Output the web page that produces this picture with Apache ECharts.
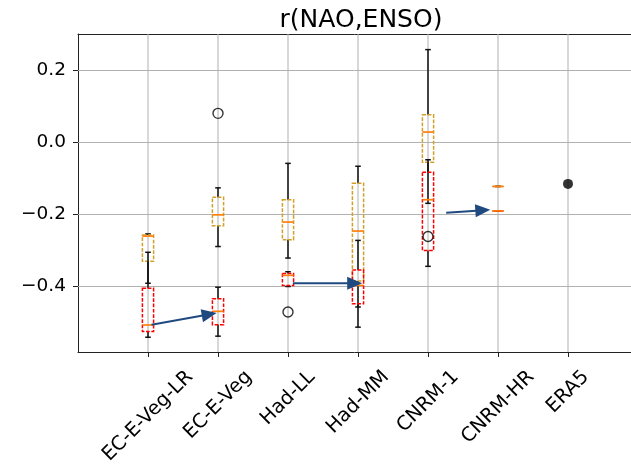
<!DOCTYPE html>
<html><head><meta charset="utf-8">
<script src="https://cdn.jsdelivr.net/npm/echarts@6/dist/echarts.min.js"></script>
<style>html,body{margin:0;padding:0;background:#fff}#c{width:631px;height:466px}</style>
</head><body><div id="c"></div>
<script>
// ---------- data ----------
const categories = ['EC-E-Veg-LR','EC-E-Veg','Had-LL','Had-MM','CNRM-1','CNRM-HR','ERA5'];
const yTicks = [-0.4, -0.2, 0.0, 0.2];
// [whisker low, Q1, median, Q3, whisker high]
const orangeBoxes = [
  [-0.391, -0.330, -0.260, -0.257, -0.254],
  [-0.289, -0.231, -0.201, -0.152, -0.126],
  [-0.321, -0.270, -0.221, -0.159, -0.058],
  [-0.457, -0.385, -0.246, -0.113, -0.066],
  [-0.169, -0.055,  0.029,  0.077,  0.258],
  [-0.122, -0.122, -0.122, -0.122, -0.122]
];
const redBoxes = [
  [-0.541, -0.525, -0.507, -0.405, -0.305],
  [-0.538, -0.506, -0.469, -0.434, -0.402],
  [-0.400, -0.397, -0.369, -0.364, -0.359],
  [-0.513, -0.448, -0.397, -0.354, -0.272],
  [-0.344, -0.300, -0.159, -0.083, -0.048],
  [-0.190, -0.190, -0.190, -0.190, -0.190]
];
const outlierCat = [1, 2, 4];
const outlierVal = [0.081, -0.471, -0.261];
const era5Cat = [6];
const era5Val = [-0.115];
const arrowFrom = [[0.05, -0.506], [2.07, -0.391], [4.26, -0.195]];
const arrowTo   = [[0.98, -0.474], [3.06, -0.391], [4.89, -0.187]];

// ---------- styles ----------
const FONT = 'DejaVu Sans';
const FS_X = 19.5;
const FS_Y = 18.5;
const LH = 1.16 * FS_X;
const LABEL_PAD = 14;
const BOX_W = 0.16;
const ORANGE_EDGE = '#d2a02a';
const RED_EDGE = '#ff0000';
const MEDIAN = '#ff7f0e';
const ARROW = '#1f4a80';
const GRID = '#b0b0b0';
const AXIS = '#222';

const cv = document.createElement('canvas').getContext('2d');
cv.font = FS_X + 'px "' + FONT + '"';
const catIdx = categories.map((c, i) => i);

function boxRenderer(color) {
  return function (params, api) {
    const x = api.value(0);
    const c = v => api.coord([x, v]);
    const pLo = c(api.value(1)), pQ1 = c(api.value(2)), pMd = c(api.value(3)), pQ3 = c(api.value(4)), pHi = c(api.value(5));
    const hw = api.size([BOX_W, 0])[0] / 2, cw = hw * 0.5;
    const cx = pMd[0];
    const ws = {stroke: '#111', lineWidth: 1.5};
    return {type: 'group', children: [
      {type: 'line', shape: {x1: cx, y1: pQ1[1], x2: cx, y2: pLo[1]}, style: ws},
      {type: 'line', shape: {x1: cx, y1: pQ3[1], x2: cx, y2: pHi[1]}, style: ws},
      {type: 'line', shape: {x1: cx - cw, y1: pLo[1], x2: cx + cw, y2: pLo[1]}, style: ws},
      {type: 'line', shape: {x1: cx - cw, y1: pHi[1], x2: cx + cw, y2: pHi[1]}, style: ws},
      {type: 'rect', shape: {x: cx - hw, y: pQ3[1], width: 2 * hw, height: pQ1[1] - pQ3[1]},
        style: {fill: 'none', stroke: color, lineWidth: 1.5, lineDash: [3.7, 1.6]}},
      {type: 'line', shape: {x1: cx - hw, y1: pMd[1], x2: cx + hw, y2: pMd[1]}, style: {stroke: MEDIAN, lineWidth: 1.7}}
    ]};
  };
}

const chart = echarts.init(document.getElementById('c'), null, {renderer: 'canvas'});
const X_MIN = -1, X_MAX = 6.9, Y_MIN = -0.582, Y_MAX = 0.3014;

chart.setOption({
  animation: false,
  backgroundColor: '#fff',
  title: {text: 'r(NAO,ENSO)', left: 356, top: 3, textAlign: 'center',
    textStyle: {fontSize: 25, fontWeight: 'normal', fontFamily: FONT, color: '#000'}},
  grid: {left: 78, right: 0, top: 34, bottom: 114, containLabel: false},
  xAxis: [{
    type: 'value', min: X_MIN, max: X_MAX, position: 'bottom',
    axisLine: {show: true, onZero: false, lineStyle: {color: AXIS, width: 1}},
    axisTick: {show: true, length: 5, customValues: catIdx, lineStyle: {color: AXIS}},
    splitLine: {show: false},
    axisLabel: {show: false}
  }, {
    type: 'value', position: 'top', min: X_MIN, max: X_MAX,
    axisLine: {show: true, onZero: false, lineStyle: {color: AXIS, width: 1}},
    axisTick: {show: false}, axisLabel: {show: false}, splitLine: {show: false}
  }],
  yAxis: {
    type: 'value', min: Y_MIN, max: Y_MAX, position: 'left',
    axisLine: {show: true, onZero: false, lineStyle: {color: AXIS, width: 1}},
    axisTick: {show: true, length: 5, customValues: yTicks, lineStyle: {color: AXIS}},
    splitLine: {show: false},
    axisLabel: {customValues: yTicks, margin: 12, fontSize: FS_Y, fontFamily: FONT, color: '#000',
      showMinLabel: true, showMaxLabel: true,
      formatter: v => (v < 0 ? '\u2212' : '') + Math.abs(v).toFixed(1)}
  },
  series: [
    {
      type: 'custom', z: 1, silent: true,
      data: yTicks.map(v => [v]),
      renderItem: (params, api) => {
        const a = api.coord([X_MIN, api.value(0)]), b = api.coord([X_MAX, api.value(0)]);
        return {type: 'line', shape: {x1: a[0], y1: a[1], x2: b[0], y2: b[1]}, style: {stroke: GRID, lineWidth: 1}};
      }
    },
    {
      type: 'custom', z: 1, silent: true,
      data: catIdx.map(v => [v]),
      renderItem: (params, api) => {
        const a = api.coord([api.value(0), Y_MIN]), b = api.coord([api.value(0), Y_MAX]);
        return {type: 'line', shape: {x1: a[0], y1: a[1], x2: b[0], y2: b[1]}, style: {stroke: GRID, lineWidth: 1}};
      }
    },
    {
      // rotated category labels, centred under each tick like matplotlib (ha='center')
      type: 'custom', z: 2, silent: true, clip: false,
      data: catIdx.map(v => [v]),
      renderItem: (params, api) => {
        const i = api.value(0);
        const name = categories[i];
        const p = api.coord([i, Y_MIN]);
        const L = cv.measureText(name).width;
        return {type: 'text', x: p[0], y: p[1] + LABEL_PAD + (L + LH) * 0.35355,
          rotation: Math.PI / 4,
          style: {text: name, fontSize: FS_X, fontFamily: FONT, fill: '#000', align: 'center', verticalAlign: 'middle'}};
      }
    },
    {
      type: 'custom', z: 3, name: 'orange',
      data: orangeBoxes.map((b, i) => [i].concat(b)),
      encode: {x: 0, y: [1, 2, 3, 4, 5]},
      renderItem: boxRenderer(ORANGE_EDGE)
    },
    {
      type: 'custom', z: 4, name: 'red',
      data: redBoxes.map((b, i) => [i].concat(b)),
      encode: {x: 0, y: [1, 2, 3, 4, 5]},
      renderItem: boxRenderer(RED_EDGE)
    },
    {
      type: 'scatter', z: 5, symbol: 'circle', symbolSize: 10,
      itemStyle: {color: 'rgba(0,0,0,0)', borderColor: '#000', borderWidth: 1.4},
      data: outlierCat.map((c, i) => [c, outlierVal[i]])
    },
    {
      type: 'scatter', z: 5, symbol: 'circle', symbolSize: 10,
      itemStyle: {color: '#000'},
      data: era5Cat.map((c, i) => [c, era5Val[i]])
    },
    {
      type: 'custom', z: 6,
      data: arrowFrom.map((f, i) => [f[0], f[1], arrowTo[i][0], arrowTo[i][1]]),
      encode: {x: [0, 2], y: [1, 3]},
      renderItem: (params, api) => {
        const p0 = api.coord([api.value(0), api.value(1)]);
        const p1 = api.coord([api.value(2), api.value(3)]);
        const dx = p1[0] - p0[0], dy = p1[1] - p0[1], len = Math.hypot(dx, dy);
        const ux = dx / len, uy = dy / len, HL = 15, HW = 6.5;
        const bx = p1[0] - ux * HL, by = p1[1] - uy * HL;
        return {type: 'group', children: [
          {type: 'line', shape: {x1: p0[0], y1: p0[1], x2: bx + ux, y2: by + uy}, style: {stroke: ARROW, lineWidth: 2}},
          {type: 'polygon', shape: {points: [[p1[0], p1[1]], [bx - uy * HW, by + ux * HW], [bx + uy * HW, by - ux * HW]]},
            style: {fill: ARROW}}
        ]};
      }
    }
  ]
});
</script>
</body></html>
